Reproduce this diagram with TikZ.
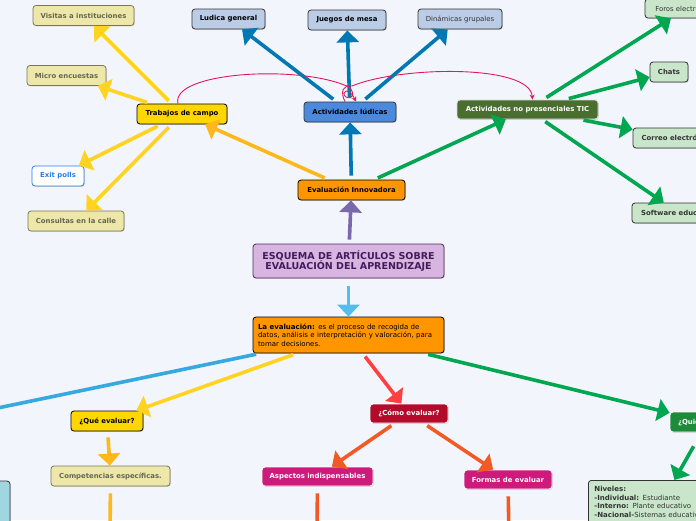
\documentclass[tikz,border=0pt]{standalone}
\usepackage{fontspec}
\setmainfont{DejaVu Sans}
\usetikzlibrary{arrows.meta,shadows}

\definecolor{fondo}{HTML}{F3F5FC}
\definecolor{cCaqui}{HTML}{EDE8AA}
\definecolor{cCaquiB}{HTML}{7B7752}
\definecolor{cCaquiT}{HTML}{66664F}
\definecolor{cOro}{HTML}{FFD700}
\definecolor{cAzulB}{HTML}{2B7DE3}
\definecolor{cCeleste}{HTML}{BBCDE6}
\definecolor{cLudico}{HTML}{4A89DC}
\definecolor{cTic}{HTML}{4A6D30}
\definecolor{cTicB}{HTML}{DDDDDD}
\definecolor{cVerdeC}{HTML}{C9E6CA}
\definecolor{cNaranja}{HTML}{FF9600}
\definecolor{cLila}{HTML}{D8B4E0}
\definecolor{cLilaB}{HTML}{4E2A5E}
\definecolor{cLilaT}{HTML}{3F1D5C}
\definecolor{cGrana}{HTML}{B20B2B}
\definecolor{cMagenta}{HTML}{CD1B7C}
\definecolor{cVerdeO}{HTML}{1E8B3B}
\definecolor{cCianBox}{HTML}{9FD6E2}
\definecolor{cGris}{HTML}{333333}
% colores de las ramas
\definecolor{cAmarillo}{HTML}{FFD320}
\definecolor{cNaranjaL}{HTML}{FFB71B}
\definecolor{cAzul}{HTML}{0078B4}
\definecolor{cVerde}{HTML}{00A650}
\definecolor{cPurpura}{HTML}{7A68AD}
\definecolor{cCelesteL}{HTML}{55BDEB}
\definecolor{cCian}{HTML}{36A9E1}
\definecolor{cRojo}{HTML}{FF4040}
\definecolor{cNaranjaR}{HTML}{F15A24}
\definecolor{cRosa}{HTML}{E0195E}

\tikzset{%
	caja/.style     = {draw, rounded corners=3pt, line width=0.8pt, minimum height=20pt,
		inner sep=2pt, font=\fontsize{6.9}{8}\selectfont\bfseries,
		drop shadow={shadow xshift=0.8pt, shadow yshift=-0.8pt, opacity=0.3}},
	hoja/.style     = {caja, fill=cCaqui, draw=cCaquiB, text=cCaquiT}, % Hojas del campo
	oro/.style      = {caja, fill=cOro, draw=black},
	polls/.style    = {caja, fill=white, draw=cAzulB, text=cAzulB},
	celeste/.style  = {caja, fill=cCeleste, draw=cGris},
	ludico/.style   = {caja, fill=cLudico, draw=cGris},
	tic/.style      = {caja, fill=cTic, draw=cTicB, text=white},
	verde/.style    = {caja, fill=cVerdeC, draw=cGris, text=cGris},
	naranja/.style  = {caja, fill=cNaranja, draw=black},
	titulo/.style   = {caja, fill=cLila, draw=cLilaB, text=cLilaT, align=center,
		font=\fontsize{9.5}{10.5}\selectfont\bfseries},
	grana/.style    = {caja, fill=cGrana, draw=white, text=white},
	magenta/.style  = {caja, fill=cMagenta, draw=white, text=white},
	quien/.style    = {caja, fill=cVerdeO, draw=white, text=white},
	fino/.style     = {font=\fontsize{6.9}{8}\selectfont}, % texto normal
	rama/.style     = {line width=3.6pt, shorten <=4pt}, % Tallo sin punta
	flecha/.style   = {rama, -{Triangle[length=12pt,width=22pt]}}, % Tallo con punta
	lazo/.style     = {draw=cRosa, line width=0.9pt, -{Stealth[length=5pt,width=5pt]}}
}

\begin{document}
\begin{tikzpicture}[x=1pt, y=-1pt]
	\useasboundingbox (0,0) rectangle (696,520);
	\clip (0,0) rectangle (696,520);
	\fill[fondo] (0,0) rectangle (696,520);

	% centro
	\node[titulo, minimum width=191pt, minimum height=34pt] (esquema) at (348.5,261)
		{ESQUEMA DE ARTÍCULOS SOBRE\\EVALUACIÓN DEL APRENDIZAJE};
	\node[naranja, minimum width=107pt] (evin)      at (351.5,190) {Evaluación Innovadora};
	\node[naranja, minimum width=191pt, minimum height=36pt, align=left, text width=181pt,
		font=\fontsize{7}{8.5}\selectfont] (laeval) at (348.5,335)
		{\textbf{La evaluación:} es el proceso de recogida de\\
		 datos, análisis e interpretación y valoración, para\\
		 tomar decisiones.};

	% rama de arriba
	\node[oro, minimum width=90pt]      (trab)      at (182,114)   {Trabajos de campo};
	\node[hoja, minimum width=101pt]    (visitas)   at (83.5,15.5) {Visitas a instituciones};
	\node[hoja, minimum width=79pt]     (micro)     at (66.5,75.5) {Micro encuestas};
	\node[polls, minimum width=52pt]    (exit)      at (58,176)    {Exit polls};
	\node[hoja, minimum width=96pt]     (consultas) at (76,221)    {Consultas en la calle};

	\node[ludico, minimum width=92pt]   (lud)       at (350,112)   {Actividades lúdicas};
	\node[celeste, minimum width=73pt]  (ludica)    at (228.5,19)  {Ludica general};
	\node[celeste, minimum width=78pt]  (juegos)    at (347,20)    {Juegos de mesa};
	\node[celeste, fino, text=cGris, minimum width=84pt] (dinamicas) at (460,19) {Dinámicas grupales};

	\node[tic, minimum width=141pt, minimum height=19pt] (tic) at (527.5,109.5) {Actividades no presenciales TIC};
	\node[verde, fino, minimum width=83pt, minimum height=19pt] (foros) at (686.5,8.5) {Foros electrónicos};
	\node[verde, minimum width=38pt]    (chats)     at (669,72)    {Chats};
	\node[verde, minimum width=89pt]    (correo)    at (677.5,138) {Correo electrónico};
	\node[verde, minimum width=94pt]    (software)  at (679,213)   {Software educativo};

	% rama de abajo
	\node[oro, minimum width=72pt]      (que)       at (107,421)   {¿Qué evaluar?};
	\node[hoja, minimum width=119pt]    (comp)      at (110.5,476) {Competencias específicas.};
	\node[grana, minimum width=78pt, minimum height=19pt]    (como)     at (409,413.5) {¿Cómo evaluar?};
	\node[magenta, minimum width=111pt, minimum height=19pt] (aspectos) at (317.5,476.5) {Aspectos indispensables};
	\node[magenta, minimum width=88pt, minimum height=19pt]  (formas)   at (508,479.5) {Formas de evaluar};
	\node[quien, minimum width=75pt]    (quien)     at (707.5,422) {¿Quién evalúa?};
	\node[verde, anchor=north west, align=left, text width=160pt, inner sep=6pt,
		font=\fontsize{7}{8.5}\selectfont] (niveles) at (588,480)
		{\textbf{Niveles:}\\
		 \textbf{-Individual:} Estudiante\\
		 \textbf{-Interno:} Plante educativo\\
		 \textbf{-Nacional-}Sistemas educativos};
	\node[caja, fill=cCianBox, draw=cGris, minimum width=60pt, minimum height=80pt] (izq) at (-20,521) {};

	\coordinate (salida)   at (-60,420);
	\coordinate (compAb)   at (110,540);
	\coordinate (aspAb)    at (317,540);
	\coordinate (forAb)    at (509,540);

	% conectores
	\draw[flecha, cPurpura]  (esquema) -- (evin);
	\draw[flecha, cNaranjaL] (evin)    -- (trab);
	\draw[flecha, cAzul]     (evin)    -- (lud);
	\draw[flecha, cVerde]    (evin)    -- (tic);

	\draw[flecha, cAmarillo] (trab)    -- (visitas);
	\draw[flecha, cAmarillo] (trab)    -- (micro);
	\draw[flecha, cAmarillo] (trab)    -- (exit);
	\draw[flecha, cAmarillo] (trab)    -- (consultas);

	\draw[flecha, cAzul]     (lud)     -- (ludica);
	\draw[flecha, cAzul]     (lud)     -- (juegos);
	\draw[flecha, cAzul]     (lud)     -- (dinamicas);

	\draw[flecha, cVerde]    (tic)     -- (foros);
	\draw[flecha, cVerde]    (tic)     -- (chats);
	\draw[flecha, cVerde]    (tic)     -- (correo);
	\draw[flecha, cVerde]    (tic)     -- (software);

	\draw[flecha, cCelesteL, shorten <=8pt] (esquema) -- (laeval);
	\draw[rama, cCian]       (laeval)  -- (salida);
	\draw[flecha, cAmarillo] (laeval)  -- (que);
	\draw[flecha, cRojo]     (laeval)  -- (como);
	\draw[flecha, cVerde]    (laeval)  -- (quien);

	\draw[flecha, cNaranjaL, shorten <=6pt] (que) -- (comp);
	\draw[rama, cNaranjaL, shorten <=7pt]   (comp) -- (compAb);
	\draw[flecha, cNaranjaR] (como)    -- (aspectos);
	\draw[flecha, cNaranjaR] (como)    -- (formas);
	\draw[rama, cNaranjaR, shorten <=7pt]   (aspectos) -- (aspAb);
	\draw[rama, cNaranjaR, shorten <=7pt]   (formas) -- (forAb);
	\draw[flecha, cVerde, shorten <=16pt]   (quien) -- (niveles.north);

	% lazos rosados
	\draw[lazo] ([xshift=-4pt]trab.north) .. controls (170,72) and (300,64) .. (349,87)
		.. controls (356,94) and (352,100) .. (346,97)
		.. controls (340,93) and (348,85) .. ([xshift=6pt]lud.north);
	\draw[lazo] ([xshift=-5pt]lud.north) .. controls (340,92) and (343,84) .. (352,86)
		.. controls (400,66) and (530,64) .. ([xshift=5pt]tic.north);
\end{tikzpicture}
\end{document}
